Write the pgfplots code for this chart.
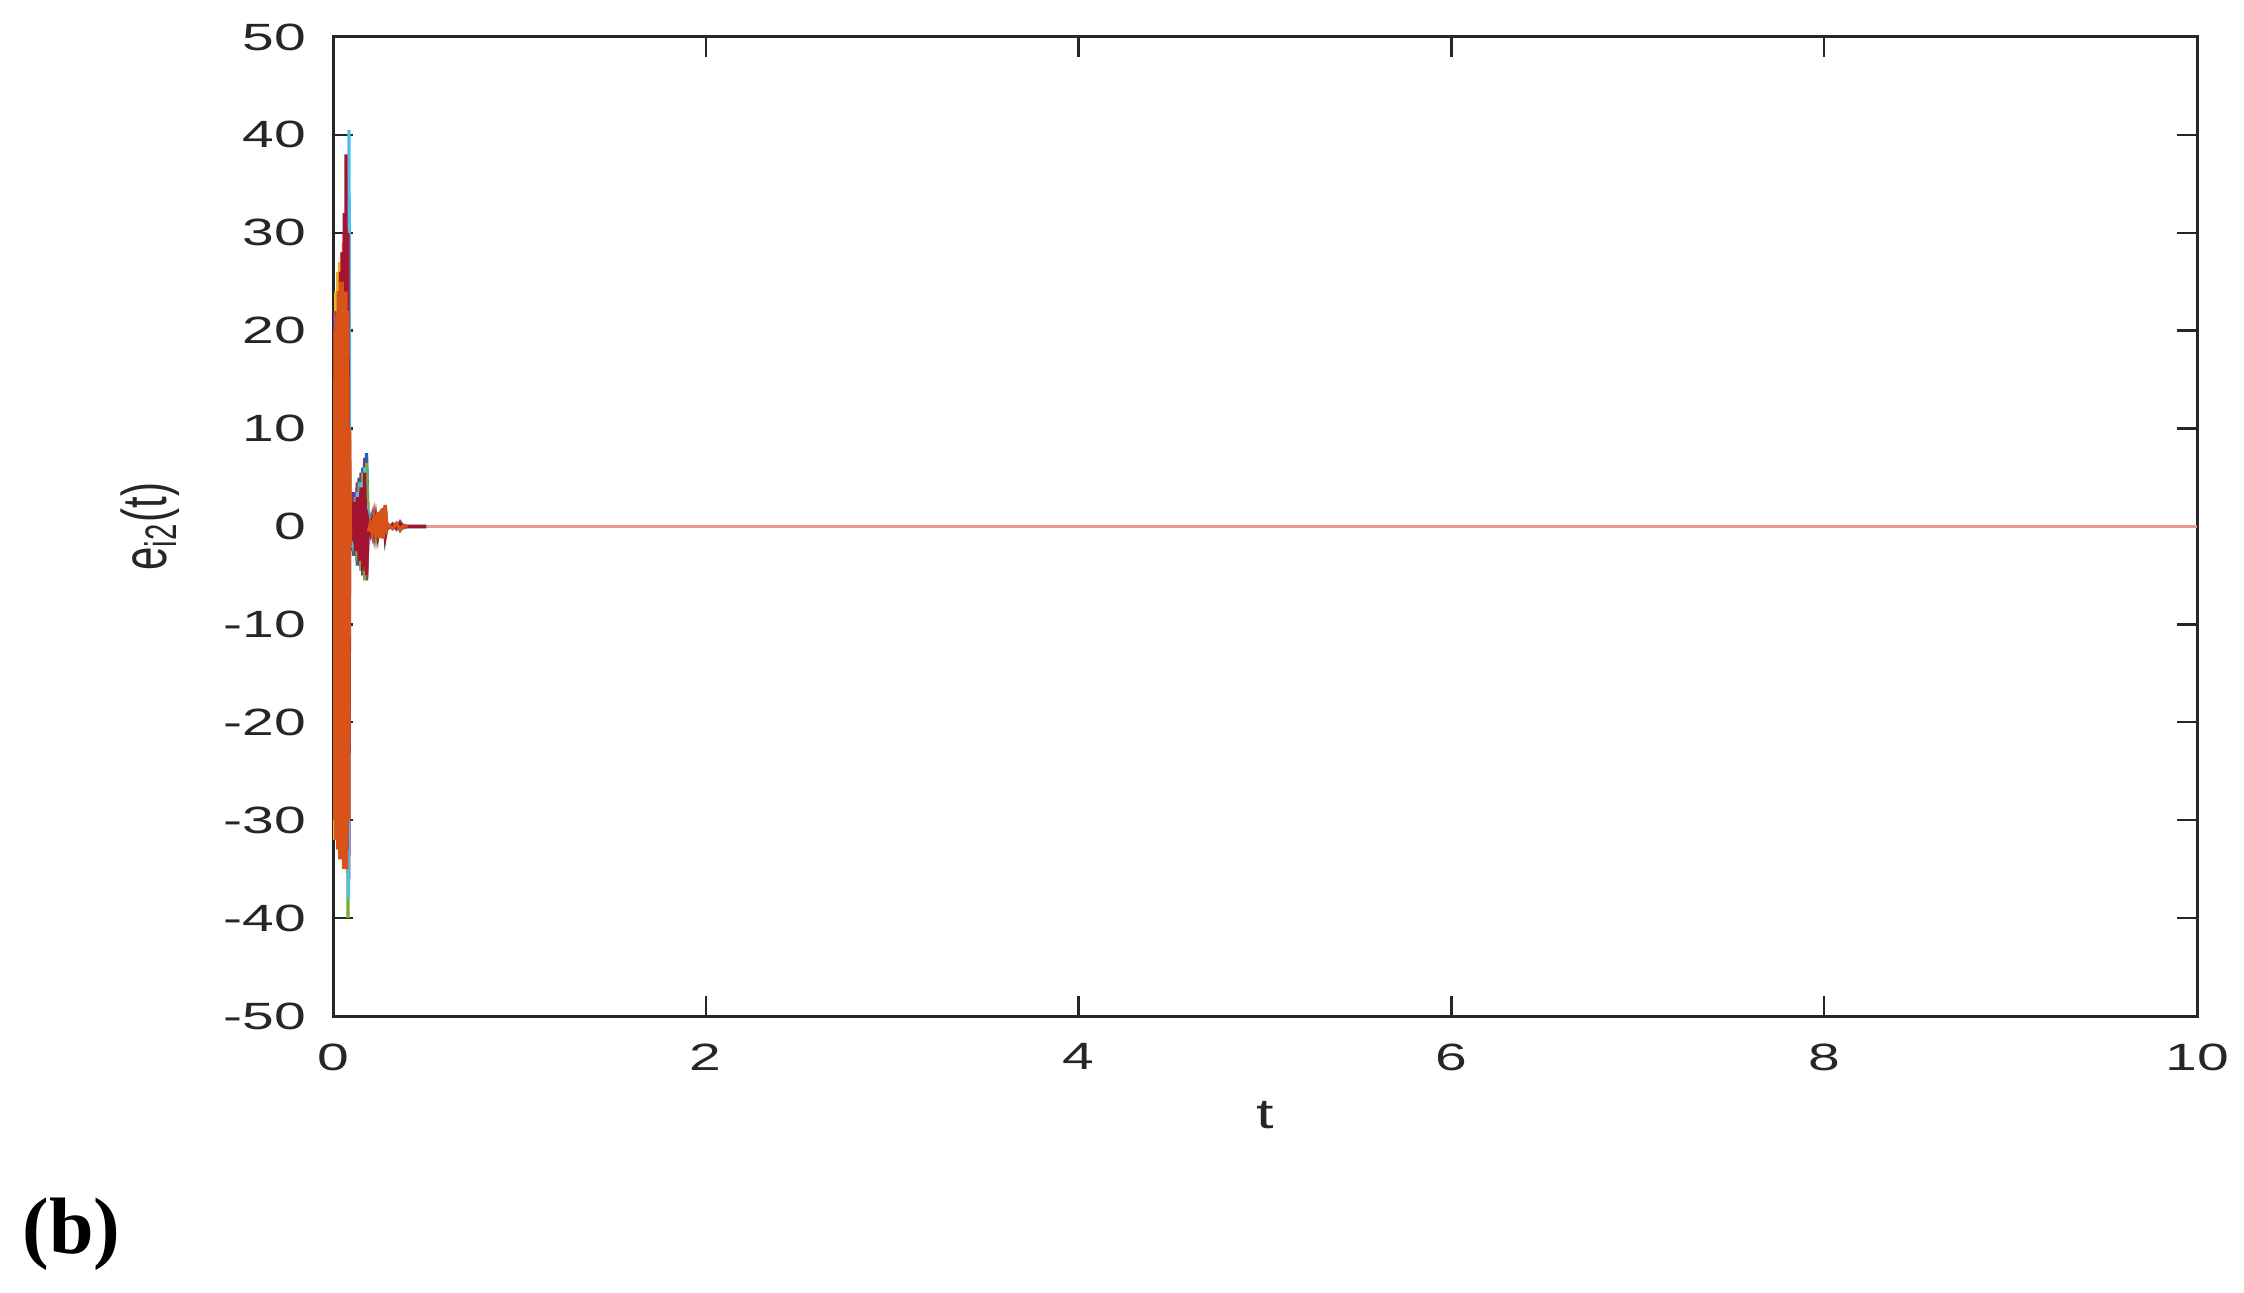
\documentclass[border=0pt]{standalone}
\usepackage{fontspec}
\usepackage{graphicx}
\setmainfont{Liberation Sans}[FakeStretch=1.5]
\newfontfamily\plainsans{Liberation Sans}
\newfontfamily\capserif{Liberation Serif}
\usepackage{pgfplots}
\pgfplotsset{compat=1.18}
\definecolor{mblue}{rgb}{0,0.447,0.741}
\definecolor{morange}{rgb}{0.85,0.325,0.098}
\definecolor{myellow}{rgb}{0.929,0.694,0.125}
\definecolor{mpurple}{rgb}{0.494,0.184,0.556}
\definecolor{mgreen}{rgb}{0.466,0.674,0.188}
\definecolor{mcyan}{rgb}{0.301,0.745,0.933}
\definecolor{mred}{rgb}{0.635,0.078,0.184}
\definecolor{msalmon}{rgb}{0.89,0.60,0.56}
\definecolor{axgray}{rgb}{0.15,0.15,0.15}
\begin{document}
\begin{tikzpicture}
\begin{axis}[
  scale only axis,
  width=466bp, height=244.75bp,
  xmin=0, xmax=10, ymin=-50, ymax=50,
  xtick={0,2,...,10}, ytick={-50,-40,...,50},
  tick align=inside,
  major tick length=5bp,
  axis line style={axgray, line width=0.75bp},
  every tick/.style={axgray, line width=0.6bp},
  /pgf/number format/assume math mode=true,
  tick label style={font=\fontsize{9.5bp}{11bp}\selectfont, text=axgray, inner sep=0pt},
  yticklabel style={anchor=east, xshift=-6.5bp},
  xticklabel style={anchor=north, yshift=-6.75bp},
  xlabel={t},
  xlabel style={at={(axis description cs:0.5,0)}, anchor=base, inner sep=0pt, yshift=-28bp, font=\fontsize{10.5bp}{12bp}\selectfont, text=axgray},
  ylabel={\scalebox{1}[1.5]{\plainsans e\textsubscript{i2}(t)}},
  ylabel style={at={(axis description cs:0,0.5)}, anchor=center, inner sep=0pt, yshift=45.75bp, font=\fontsize{10.5bp}{12bp}\selectfont, text=axgray},
  every axis plot/.append style={line width=0.8bp},
  clip=true,
]
\addplot[msalmon] coordinates {(0.3,0)(10,0)};
\addplot[morange] coordinates {(0.09,-2)
(0.1,1.5)(0.11,-2)(0.12,2.5)(0.13,-3)(0.14,3.5)(0.15,-3.5)(0.16,4.5)(0.17,-4)(0.18,5)(0.19,-0.5)};
\addplot[mblue] coordinates {(0,-22)(0.005,15)(0.01,-20)(0.015,18)(0.02,-22)(0.025,20)(0.03,-24)(0.035,22)(0.04,-25)(0.045,24)(0.05,-27)(0.055,26)(0.06,-29)(0.065,28)(0.07,-31)(0.075,30)(0.08,-32)(0.085,25)(0.09,-2)
(0.1,2.5)(0.11,-3)(0.12,3.5)(0.13,-4)(0.14,5)(0.15,-4.5)(0.16,6)(0.17,-5)(0.18,7.5)(0.19,-1)
(0.2,0.5)(0.21,-0.6)(0.22,0.9)(0.23,-0.9)(0.24,1.3)(0.25,-1.1)(0.26,1.7)(0.27,-1.2)(0.28,2.2)(0.29,-0.3)
(0.3,0.1)(0.32,-0.2)(0.34,0.3)(0.36,-0.4)(0.38,0.1)(0.4,0)(0.5,0)};
\addplot[myellow] coordinates {(0,-32)(0.005,20)(0.01,-30)(0.015,24)(0.02,-30)(0.025,26)(0.03,-31)(0.035,27)(0.04,-32)(0.045,28)(0.05,-33)(0.055,29)(0.06,-33)(0.065,30)(0.07,-34)(0.075,31)(0.08,-30)(0.085,20)(0.09,2)
(0.1,-2)(0.11,3)(0.12,-3)(0.13,4)(0.14,-4)(0.15,5)(0.16,-5)(0.17,6.5)(0.18,-5.5)(0.19,1)
(0.2,-0.4)(0.21,0.7)(0.22,-0.7)(0.23,1)(0.24,-1)(0.25,1.4)(0.26,-1.1)(0.27,1.8)(0.28,-1.2)(0.29,0.3)
(0.3,-0.1)(0.32,0.2)(0.34,-0.2)(0.36,0.4)(0.38,-0.1)(0.4,0)(0.5,0)};
\addplot[mpurple] coordinates {(0,22)(0.005,-15)(0.01,20)(0.015,-20)(0.02,22)(0.025,-22)(0.03,24)(0.035,-24)(0.04,26)(0.045,-26)(0.05,28)(0.055,-28)(0.06,30)(0.065,-30)(0.07,32)(0.075,-34)(0.08,34)(0.085,-36)(0.09,3)
(0.1,-2.5)(0.11,3.5)(0.12,-3)(0.13,4.5)(0.14,-4)(0.15,5.5)(0.16,-5)(0.17,7)(0.18,-5.5)(0.19,0.5)
(0.2,-0.5)(0.21,0.8)(0.22,-0.8)(0.23,1.1)(0.24,-1)(0.25,1.5)(0.26,-1.1)(0.27,1.9)(0.28,-1.2)(0.29,0.2)
(0.3,-0.1)(0.32,0.25)(0.34,-0.25)(0.36,0.45)(0.38,-0.1)(0.4,0)(0.5,0)};
\addplot[mgreen] coordinates {(0,-12)(0.005,10)(0.01,-18)(0.015,15)(0.02,-20)(0.025,18)(0.03,-22)(0.035,20)(0.04,-24)(0.045,22)(0.05,-26)(0.055,24)(0.06,-28)(0.065,26)(0.07,-30)(0.075,28)(0.08,-40)(0.085,15)(0.09,-1)
(0.1,2)(0.11,-2.5)(0.12,3)(0.13,-3.5)(0.14,4.5)(0.15,-4.5)(0.16,5.5)(0.17,-5.5)(0.18,6.5)(0.19,-0.5)
(0.2,0.4)(0.21,-0.6)(0.22,0.8)(0.23,-0.9)(0.24,1.2)(0.25,-1.1)(0.26,1.6)(0.27,-1.2)(0.28,2)(0.29,-0.2)
(0.3,0.1)(0.32,-0.2)(0.34,0.25)(0.36,-0.35)(0.38,0.1)(0.4,0)(0.5,0)};
\addplot[mcyan] coordinates {(0,13)(0.005,-22)(0.01,18)(0.015,-24)(0.02,20)(0.025,-25)(0.03,22)(0.035,-26)(0.04,24)(0.045,-28)(0.05,26)(0.055,-30)(0.06,28)(0.065,-32)(0.07,30)(0.075,-34)(0.08,36)(0.083,-38)(0.086,40.5)(0.09,-2)
(0.1,-2)(0.11,2.5)(0.12,-2.5)(0.13,3.5)(0.14,-3.5)(0.15,4.5)(0.16,-4)(0.17,6)(0.18,-5)(0.19,0.8)
(0.2,-0.3)(0.21,0.6)(0.22,-0.6)(0.23,0.9)(0.24,-0.9)(0.25,1.2)(0.26,-1)(0.27,1.6)(0.28,-1.1)(0.29,0.2)
(0.3,-0.1)(0.32,0.15)(0.34,-0.2)(0.36,0.3)(0.38,-0.1)(0.4,0)(0.5,0)};
\addplot[mred] coordinates {(0,18)(0.005,-25)(0.01,20)(0.015,-26)(0.02,22)(0.025,-27)(0.03,24)(0.035,-28)(0.04,26)(0.045,-29)(0.05,28)(0.055,-30)(0.06,32)(0.065,-32)(0.07,38)(0.075,-33)(0.08,30)(0.085,-20)(0.09,2)
(0.1,-1.5)(0.11,2.5)(0.12,-2.5)(0.13,3)(0.14,-3.5)(0.15,4)(0.16,-4.5)(0.17,5.5)(0.18,-5)(0.19,0.5)
(0.2,-0.4)(0.21,0.5)(0.22,-0.6)(0.23,0.8)(0.24,-0.8)(0.25,1.1)(0.26,-1)(0.27,1.5)(0.28,-1)(0.29,0.2)
(0.3,-0.1)(0.32,0.15)(0.34,-0.15)(0.36,0.3)(0.38,-0.05)(0.4,0)(0.5,0)};
\addplot[morange, line width=1.2bp] coordinates {(0,-10)(0.005,15)(0.01,-30)(0.015,20)(0.02,-32)(0.025,22)(0.03,-33)(0.035,24)(0.04,-34)(0.045,25)(0.05,-34)(0.055,24)(0.06,-35)(0.065,24)(0.07,-35)(0.075,22)(0.08,-30)(0.085,10)(0.09,-2)};
\addplot[morange] coordinates {(0.19,-0.5)
(0.2,0.3)(0.21,-0.7)(0.22,1)(0.23,-1.1)(0.24,1.4)(0.25,-1.2)(0.26,1.8)(0.27,-1.2)(0.28,2.2)(0.29,-0.3)
(0.3,0.1)(0.32,-0.2)(0.34,0.3)(0.36,-0.3)(0.38,0.1)(0.4,0)};
\end{axis}
\node[anchor=west, inner sep=0pt] at ([shift={(-77.75bp,-54.5bp)}]current axis.south west) {\capserif\bfseries\fontsize{20bp}{24bp}\selectfont (b)};
\pgfresetboundingbox
\path[use as bounding box] ([shift={(-83.25bp,-69.25bp)}]current axis.south west) rectangle ([shift={(11.75bp,9.25bp)}]current axis.north east);
\end{tikzpicture}
\end{document}
